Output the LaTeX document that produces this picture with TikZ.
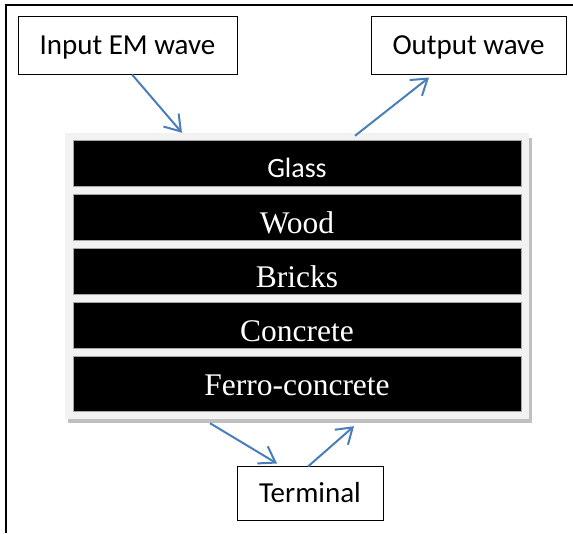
\documentclass[tikz,border=0pt]{standalone}
\usepackage{fontspec}
\setmainfont{Liberation Serif}
\newfontfamily\labelfont{Carlito}
\usetikzlibrary{arrows.meta}
\definecolor{arrowblue}{RGB}{74,126,187}
\definecolor{panelgray}{RGB}{242,242,242}
\definecolor{shadowgray}{RGB}{192,192,192}
\tikzset{
  labelbox/.style={draw=black, line width=1pt, fill=white, inner sep=0pt,
    font=\labelfont\fontsize{29}{34}\selectfont, text height=18.7pt, text depth=0pt},
  layer/.style={fill=black, draw=gray!70, line width=0.8pt, inner sep=0pt,
    minimum width=448pt, text=white, text depth=0pt},
  serifname/.style={font=\fontsize{31.5}{36}\selectfont, text height=32pt},
  flow/.style={draw=arrowblue, line width=2pt,
    -{Straight Barb[length=15pt,width=20pt,line width=2pt]}}
}
\begin{document}
\begin{tikzpicture}[x=1pt, y=-1pt]
  \useasboundingbox (0,0) rectangle (573,533);
  % outer frame (open to the right and bottom)
  \draw[line width=2pt] (6,533) -- (6,5) -- (573,5);

  % panel holding the material layers, with its drop shadow
  \fill[shadowgray] (68,138) rectangle (532,423);
  \node[fill=panelgray, inner sep=0pt, minimum width=464pt, minimum height=286pt]
    (panel) at (297,276) {};

  % material layers
  \node[layer, minimum height=46pt, font=\labelfont\fontsize{28}{32}\selectfont,
        text height=29pt] (glass) at (297,163) {Glass};
  \node[layer, serifname, minimum height=46pt] (wood) at (297,217) {Wood};
  \node[layer, serifname, minimum height=46pt] (bricks) at (297,271) {Bricks};
  \node[layer, serifname, minimum height=46pt] (concrete) at (297,325) {Concrete};
  \node[layer, serifname, minimum height=55pt, text height=23pt]
    (ferro) at (297,383.5) {Ferro-concrete};

  % labelled boxes
  \node[labelbox, minimum width=219pt, minimum height=58pt] (input) at (127.5,45) {Input EM wave};
  \node[labelbox, minimum width=195pt, minimum height=58pt] (output) at (468.5,45) {Output wave};
  \node[labelbox, minimum width=146pt, minimum height=54pt] (terminal) at (310,493) {Terminal};

  % wave paths
  \draw[flow] ([xshift=4.5pt]input.south) -- ([xshift=-115pt]panel.north);
  \draw[flow] ([xshift=58pt,yshift=-3pt]panel.north) -- ([xshift=-39.5pt,yshift=-3pt]output.south);
  \draw[flow] ([xshift=-87pt,yshift=-4pt]panel.south) -- ([xshift=-33pt,yshift=2pt]terminal.north);
  \draw[flow] ([xshift=-2pt,yshift=-1pt]terminal.north) -- ([xshift=57pt,yshift=-7pt]panel.south);
\end{tikzpicture}
\end{document}
